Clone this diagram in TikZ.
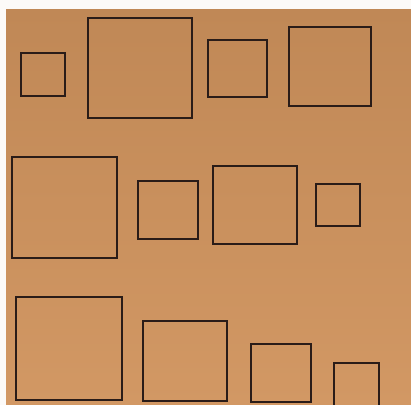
\documentclass[tikz,border=0pt]{standalone}
\usepackage{xcolor}
\usepackage{tikz}
\definecolor{cardtop}{RGB}{192, 136, 86}
\definecolor{cardbot}{RGB}{210, 152, 100}
\definecolor{penink}{RGB}{42, 28, 24}

\begin{document}
\begin{tikzpicture}[
    x=0.1cm, y=-0.1cm,
    sq/.style={draw=penink, line width=0.2cm, line join=miter}
]
\useasboundingbox (0,0) rectangle (411,405);

% Sheet of card
\fill[white!96!cardtop] (0,0) rectangle (411,405);
\shade[top color=cardtop, bottom color=cardbot] (6,9) rectangle (411,405);

% Top row
\draw[sq] (21,53) rectangle (65,96);
\draw[sq] (88,18) rectangle (192,118);
\draw[sq] (208,40) rectangle (267,97);
\draw[sq] (289,27) rectangle (371,106);

% Middle row
\draw[sq] (12,157) rectangle (117,258);
\draw[sq] (138,181) rectangle (198,239);
\draw[sq] (213,166) rectangle (297,244);
\draw[sq] (316,184) rectangle (360,226);

% Bottom row
\draw[sq] (16,297) rectangle (122,400);
\draw[sq] (143,321) rectangle (227,401);
\draw[sq] (251,344) rectangle (311,402);
\draw[sq] (334,363) rectangle (379,406);

\end{tikzpicture}
\end{document}
